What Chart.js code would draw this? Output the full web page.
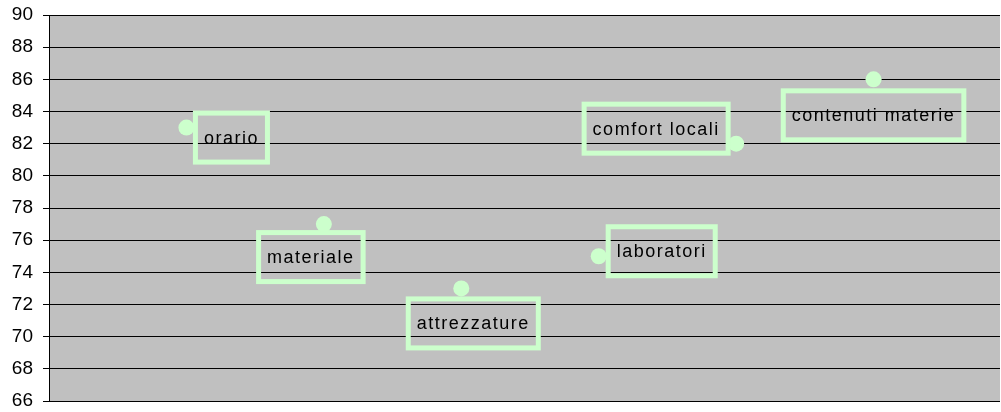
<!DOCTYPE html>
<html>
<head>
<meta charset="utf-8">
<script src="https://cdn.jsdelivr.net/npm/chart.js@4"></script>
<style>
  html, body { margin: 0; padding: 0; background: #fff; }
</style>
</head>
<body>
<canvas id="scatterChart" width="1001" height="412"></canvas>
<script>
// Data
const categories = ["orario", "materiale", "attrezzature", "laboratori", "comfort locali", "contenuti materie"];
const positions = [1, 2, 3, 4, 5, 6];
const scores = [83, 77, 73, 75, 82, 86];

const points = positions.map((x, i) => ({ x: x, y: scores[i] }));

// label box offsets from each point, in pixels
const labelOffsets = [[45, 10], [-13, 33], [12, 35], [63, -5], [-80, -15], [0, 36]];

const plotBackground = {
  id: "plotBackground",
  beforeDraw(chart) {
    const { ctx, chartArea } = chart;
    ctx.save();
    ctx.fillStyle = "#C0C0C0";
    ctx.fillRect(chartArea.left, chartArea.top, chartArea.right - chartArea.left, chartArea.bottom - chartArea.top);
    ctx.restore();
  },
};

const labelBoxes = {
  id: "labelBoxes",
  afterDatasetsDraw(chart) {
    const ctx = chart.ctx;
    const meta = chart.getDatasetMeta(0);
    ctx.save();
    ctx.font = "18px 'Liberation Sans', Arial, sans-serif";
    ctx.letterSpacing = "1.5px";
    ctx.textAlign = "center";
    ctx.textBaseline = "middle";
    meta.data.forEach((pt, i) => {
      const cx = pt.x + labelOffsets[i][0];
      const cy = pt.y + labelOffsets[i][1];
      const w = ctx.measureText(categories[i]).width + 22;
      const h = 54;
      ctx.strokeStyle = "#CCFFCC";
      ctx.lineWidth = 5;
      ctx.strokeRect(cx - w / 2 + 2.5, cy - h / 2 + 2.5, w - 5, h - 5);
      ctx.fillStyle = "#000";
      ctx.fillText(categories[i], cx, cy + 1);
    });
    ctx.restore();
  },
};

new Chart(document.getElementById("scatterChart"), {
  type: "scatter",
  data: {
    datasets: [{
      label: "punteggio",
      data: points,
      pointRadius: 8,
      pointHoverRadius: 8,
      pointBackgroundColor: "#CCFFCC",
      pointBorderColor: "#CCFFCC",
      pointBorderWidth: 0,
    }],
  },
  options: {
    responsive: false,
    animation: false,
    layout: { autoPadding: false, padding: { top: 15, bottom: 11, left: 0, right: 1 } },
    plugins: {
      legend: { display: false },
      tooltip: { enabled: false },
    },
    scales: {
      x: {
        type: "linear",
        min: 0,
        max: 6.92,
        display: false,
      },
      y: {
        min: 66,
        max: 90,
        ticks: {
          stepSize: 2,
          color: "#000",
          padding: 10,
          font: { family: "'Liberation Sans', Arial, sans-serif", size: 19, lineHeight: 0.1 },
        },
        border: { color: "#000", width: 1 },
        grid: { color: "#000", tickLength: 6, tickColor: "#000" },
        afterFit(scale) { scale.width = 49; },
      },
    },
  },
  plugins: [plotBackground, labelBoxes],
});
</script>
</body>
</html>
